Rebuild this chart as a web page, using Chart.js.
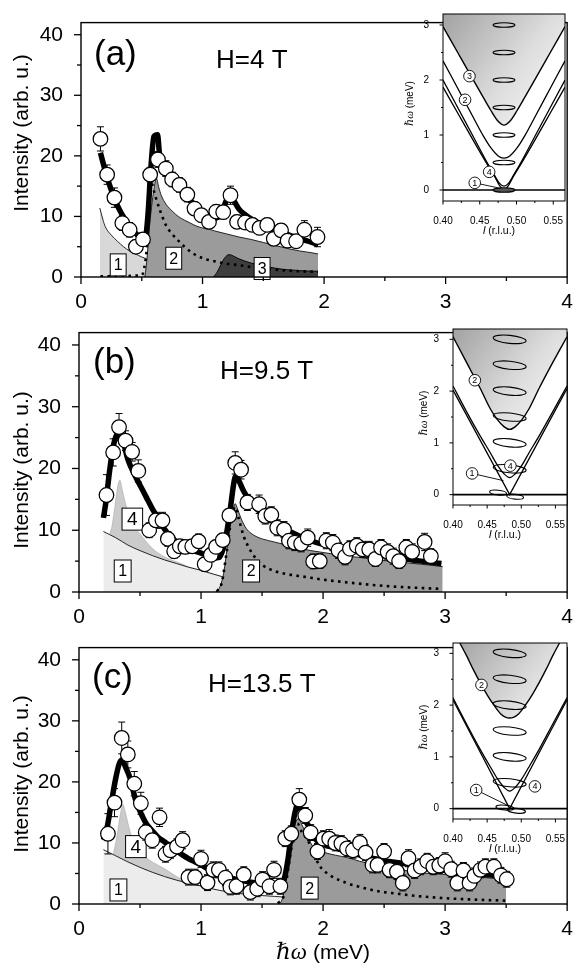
<!DOCTYPE html>
<html>
<head>
<meta charset="utf-8">
<title>Inelastic spectra at H = 4, 9.5 and 13.5 T</title>
<script src="https://cdn.jsdelivr.net/npm/chart.js"></script>
<style>
  html, body { margin: 0; padding: 0; background: #ffffff; }
  #page { position: relative; width: 578px; height: 974px; overflow: hidden; background: #ffffff; }
  #page canvas { position: absolute; }
</style>
</head>
<body>
<div id="page">
  <canvas id="mainA" width="578" height="310" style="left:0px;top:0px"></canvas>
  <canvas id="mainB" width="578" height="315" style="left:0px;top:310px"></canvas>
  <canvas id="mainC" width="578" height="349" style="left:0px;top:625px"></canvas>
  <canvas id="insetA" width="180" height="245" style="left:395px;top:0px"></canvas>
  <canvas id="insetB" width="170" height="235" style="left:405px;top:315px"></canvas>
  <canvas id="insetC" width="170" height="235" style="left:405px;top:629px"></canvas>
</div>
<script>
// ---------- axis ticks ----------
const MAIN_X_TICKS = [0, 1, 2, 3, 4];
const MAIN_X_MINOR = [0.5, 1.5, 2.5, 3.5];
const MAIN_Y_TICKS = [0, 10, 20, 30, 40];
const MAIN_Y_MINOR = [5, 15, 25, 35];
const INSET_X_TICKS = [0.40, 0.45, 0.50, 0.55];
const INSET_X_MINOR = [0.425, 0.475, 0.525];
const INSET_Y_TICKS = [0, 1, 2, 3];
const INSET_Y_MINOR = [0.5, 1.5, 2.5];

// ---------- (a) H = 4 T ----------
const A_PTS_X = [0.160,0.215,0.275,0.340,0.400,0.452,0.510,0.569,0.633,0.698,0.750,0.810,0.875,0.934,0.990,1.053,1.113,1.170,1.230,1.284,1.350,1.410,1.469,1.532,1.586,1.646,1.700,1.770,1.838,1.946];
const A_PTS_Y = [22.8,16.9,13.1,8.9,7.8,5.0,6.2,16.9,19.4,17.9,16.1,15.2,13.6,11.3,10.2,9.1,10.8,10.7,13.5,9.1,9.0,8.6,8.1,8.6,6.3,7.7,6.0,5.9,7.8,6.6];
const A_PTS_E = [2.0,1.6,1.6,1.2,1.2,1.1,1.1,1.2,1.3,1.3,1.2,1.2,1.2,1.1,1.1,1.1,1.1,1.1,1.5,1.1,1.1,1.1,1.1,1.1,1.1,1.1,1.1,1.1,1.5,1.6];
const A_FIT_X = [0.16,0.20,0.25,0.30,0.35,0.40,0.45,0.50,0.525,0.55,0.575,0.60,0.63,0.645,0.67,0.70,0.75,0.80,0.85,0.90,0.95,1.00,1.05,1.10,1.15,1.20,1.23,1.26,1.30,1.35,1.40,1.50,1.60,1.70,1.80,1.90,1.95];
const A_FIT_Y = [20.5,17.5,14.3,11.8,9.9,8.4,7.2,6.3,6.0,10.0,18.0,23.2,23.5,20.5,18.8,17.5,16.0,14.8,13.6,12.6,11.6,10.8,10.1,9.7,10.3,12.8,13.4,12.5,11.2,10.3,9.6,8.5,7.7,7.0,6.3,5.7,5.3];
const A_R1_X = [0.155,0.18,0.20,0.25,0.30,0.35,0.40,0.45,0.50,0.54];
const A_R1_Y = [11.4,9.5,8.3,6.9,5.9,5.0,4.3,3.8,3.3,3.0];
const A_R2_X = [0.525,0.535,0.545,0.56,0.58,0.60,0.62,0.64,0.66,0.70,0.75,0.80,0.85,0.90,0.95,1.00,1.05,1.10,1.20,1.30,1.40,1.50,1.60,1.70,1.80,1.90,1.95];
const A_R2_Y = [0,1.5,3.5,7.5,11.5,14.5,16.3,14.8,13.5,12.0,10.9,10.0,9.4,8.9,8.4,8.1,7.9,7.6,7.1,6.6,6.2,5.7,5.2,4.7,4.3,4.0,3.8];
const A_R3_X = [1.09,1.12,1.15,1.18,1.22,1.26,1.30,1.40,1.50,1.60,1.70,1.80,1.95];
const A_R3_Y = [0,0.8,2.0,3.1,3.7,3.4,3.0,2.3,1.85,1.45,1.2,1.05,0.95];
const A_DOT_X = [0.16,0.50,0.52,0.54,0.555,0.565,0.575,0.59,0.62,0.65,0.70,0.75,0.80,0.90,1.00,1.10,1.20,1.30,1.40,1.50,1.60,1.70,1.80,1.95];
const A_DOT_Y = [0.1,0.3,1.5,4.5,10,15,16.5,15,12.8,11,8.5,7.1,6.0,4.2,3.1,2.6,2.2,1.95,1.65,1.4,1.2,1.05,0.95,0.85];

// ---------- (b) H = 9.5 T ----------
const B_PTS_X = [0.225,0.280,0.328,0.381,0.435,0.486,0.575,0.630,0.684,0.728,0.780,0.826,0.871,0.928,0.980,1.030,1.080,1.123,1.178,1.232,1.280,1.328,1.380,1.476,1.526,1.576,1.624,1.680,1.720,1.768,1.820,1.874,1.919,1.973,2.027,2.080,2.126,2.180,2.220,2.276,2.324,2.378,2.429,2.475,2.529,2.575,2.623,2.682,2.730,2.832,2.883];
const B_PTS_Y = [15.7,22.6,26.7,24.5,22.7,19.6,10.0,11.6,11.6,8.6,6.6,7.4,7.3,7.4,8.2,4.5,6.0,7.3,8.4,12.4,20.9,19.8,14.5,14.2,12.3,12.5,10.4,10.1,8.3,8.0,7.8,8.8,4.95,5.0,8.3,8.0,6.75,5.7,7.0,7.5,6.9,6.9,5.35,7.2,6.5,5.8,5.0,7.2,6.5,8.1,5.8];
const B_PTS_E = [3.3,2.2,2.2,1.6,1.5,1.8,1.2,1.3,1.3,1.2,1.1,1.1,1.1,1.1,1.2,1.1,1.1,1.1,1.1,1.1,1.8,1.5,1.3,1.5,1.3,1.3,1.3,1.3,1.3,1.3,1.3,1.4,1.2,1.2,1.3,1.3,1.3,1.3,1.3,1.3,1.3,1.3,1.2,1.3,1.3,1.3,1.2,1.3,1.3,1.4,1.2];
const B_FIT_X = [0.20,0.22,0.25,0.28,0.31,0.33,0.36,0.40,0.45,0.50,0.55,0.60,0.65,0.70,0.75,0.80,0.85,0.90,0.95,1.00,1.05,1.10,1.15,1.20,1.24,1.27,1.285,1.31,1.35,1.40,1.45,1.50,1.60,1.70,1.80,1.90,2.00,2.20,2.40,2.60,2.80,2.97];
const B_FIT_Y = [12.0,14.5,19.5,23.5,25.5,25.8,24.5,21.5,19.2,17.3,15.4,13.5,11.9,10.2,9.0,8.1,7.5,7.0,6.6,6.3,5.9,5.5,5.6,8.5,13.5,17.8,18.8,18.0,16.3,14.7,13.6,12.7,11.3,10.1,9.1,8.3,7.7,6.9,6.2,5.6,5.0,4.6];
const B_R1_X = [0.20,0.25,0.30,0.35,0.40,0.50,0.60,0.70,0.80,0.90,1.00,1.10,1.17];
const B_R1_Y = [9.8,9.3,8.8,8.2,7.6,6.7,5.9,5.2,4.6,4.0,3.5,2.9,2.5];
const B_R4_X = [0.25,0.27,0.295,0.32,0.335,0.355,0.376,0.416,0.45,0.50,0.60,0.70,0.85,0.90,1.00,1.10,1.17];
const B_R4_Y = [9.35,10.6,14.0,17.4,18.1,16.5,14.7,11.9,10.6,9.4,7.1,5.7,4.5,4.05,3.5,2.9,2.5];
const B_R2_X = [1.12,1.15,1.18,1.20,1.23,1.26,1.28,1.30,1.33,1.37,1.41,1.45,1.50,1.60,1.70,1.80,1.90,2.00,2.10,2.20,2.30,2.40,2.50,2.60,2.70,2.80,2.90,2.98];
const B_R2_Y = [0,0.6,2.5,5.0,9.5,13.0,14.3,13.4,11.8,10.3,9.5,9.0,8.6,8.1,7.6,7.1,6.7,6.4,6.1,5.8,5.6,5.3,5.1,4.9,4.7,4.5,4.3,4.1];
const B_DOT_X = [1.13,1.17,1.21,1.25,1.28,1.31,1.35,1.40,1.45,1.50,1.60,1.70,1.80,1.90,2.00,2.20,2.40,2.60,2.80,2.98];
const B_DOT_Y = [0.1,1.5,6.5,12.0,13.8,11.8,9.0,6.9,5.4,4.4,3.4,2.9,2.6,2.3,2.0,1.55,1.15,0.85,0.65,0.5];

// ---------- (c) H = 13.5 T ----------
const C_PTS_X = [0.237,0.291,0.350,0.400,0.453,0.507,0.547,0.600,0.660,0.709,0.750,0.803,0.849,0.897,0.951,1.000,1.053,1.100,1.146,1.200,1.240,1.290,1.350,1.404,1.460,1.504,1.560,1.598,1.650,1.690,1.740,1.805,1.854,1.898,1.954,2.003,2.050,2.100,2.150,2.196,2.245,2.302,2.348,2.405,2.446,2.500,2.545,2.605,2.653,2.700,2.750,2.800,2.853,2.903,2.952,3.000,3.050,3.100,3.150,3.200,3.240,3.290,3.330,3.400,3.457,3.505];
const C_PTS_Y = [11.5,16.6,27.2,24.5,19.7,16.5,11.75,10.45,14.2,8.15,8.8,9.4,10.45,4.4,4.4,7.4,3.5,5.6,5.6,4.3,2.8,2.9,4.8,1.95,2.5,4.0,2.9,5.6,2.9,10.7,11.5,17.1,14.5,11.7,8.6,10.7,10.7,10.0,9.9,9.1,8.8,10.0,8.4,6.4,6.4,8.6,5.6,5.3,3.45,7.5,5.5,6.1,7.0,6.1,6.3,7.0,5.7,3.45,5.5,3.45,4.6,5.6,6.1,6.1,4.7,4.05];
const C_PTS_E = [3.3,2.3,2.6,2.2,2.0,1.8,1.3,1.3,1.5,1.3,1.3,1.3,1.4,1.3,1.3,1.4,1.3,1.3,1.3,1.3,1.3,1.3,1.3,1.3,1.3,1.3,1.3,1.4,1.3,1.3,1.3,1.8,1.3,1.3,1.3,1.3,1.5,1.3,1.3,1.3,1.3,1.4,1.3,1.3,1.3,1.3,1.3,1.3,1.3,1.4,1.3,1.3,1.3,1.3,1.3,1.4,1.3,1.3,1.3,1.3,1.3,1.3,1.3,1.3,1.3,1.3];
const C_FIT_X = [0.20,0.23,0.26,0.30,0.33,0.355,0.38,0.42,0.46,0.50,0.55,0.60,0.65,0.70,0.75,0.80,0.85,0.90,0.95,1.00,1.10,1.20,1.30,1.40,1.50,1.60,1.65,1.68,1.71,1.74,1.77,1.79,1.81,1.85,1.89,1.93,2.00,2.10,2.20,2.30,2.40,2.50,2.60,2.70,2.80,2.90,3.00,3.10,3.20,3.30,3.40,3.50];
const C_FIT_Y = [10.5,12.5,16.0,20.5,23.0,23.6,22.5,20.5,17.3,15.2,13.2,12.0,10.9,10.2,9.4,8.7,8.0,7.4,6.9,6.4,5.3,4.5,4.0,3.6,3.25,3.1,3.15,4.0,7.0,11.5,15.0,16.2,15.8,13.8,12.5,10.8,9.8,9.2,8.6,8.0,7.5,7.1,6.8,6.5,6.1,5.8,5.5,5.2,5.0,4.85,4.7,4.3];
const C_R1_X = [0.20,0.30,0.40,0.50,0.60,0.70,0.80,0.90,1.00,1.10,1.20,1.30,1.40,1.50,1.60,1.67];
const C_R1_Y = [8.9,7.9,6.9,6.0,5.2,4.5,3.9,3.4,2.95,2.45,2.05,1.75,1.55,1.38,1.25,1.15];
const C_R4_X = [0.28,0.31,0.34,0.36,0.38,0.41,0.45,0.50,0.55,0.60,0.70,0.80,0.90,1.00];
const C_R4_Y = [8.0,11.0,14.8,16.3,15.0,12.5,10.0,8.5,7.6,6.9,5.8,4.5,3.5,2.95];
const C_R2_X = [1.63,1.66,1.69,1.72,1.75,1.78,1.80,1.83,1.87,1.91,1.95,2.00,2.10,2.20,2.30,2.40,2.50,2.60,2.70,2.80,2.90,3.00,3.10,3.20,3.30,3.40,3.45,3.50];
const C_R2_Y = [0,0.5,3.0,7.5,11.5,13.6,14.0,12.8,11.3,9.6,8.9,8.5,8.0,7.6,7.0,6.5,6.1,5.7,5.4,5.1,4.95,4.85,4.65,4.5,4.35,4.2,4.0,3.7];
const C_DOT_X = [1.63,1.68,1.72,1.76,1.79,1.82,1.87,1.92,1.97,2.05,2.20,2.30,2.45,2.60,2.80,3.00,3.20,3.50];
const C_DOT_Y = [0.1,1.5,6.5,11.5,13.2,12.0,10.6,8.5,6.3,4.8,3.4,2.8,2.1,1.7,1.25,0.95,0.75,0.55];

// ---------- dispersion insets: l (r.l.u.) vs energy (meV) ----------
const IA_L = [0.40,0.42,0.44,0.455,0.465,0.475,0.483,0.491,0.501,0.511,0.526,0.546,0.566];
const IA_E3 = [2.97,2.5,2.03,1.68,1.45,1.25,1.18,1.25,1.45,1.68,2.03,2.5,2.97];
const IA_E2 = [2.35,1.85,1.35,0.98,0.77,0.62,0.58,0.62,0.77,0.98,1.35,1.85,2.35];
const IA_LV = [0.40,0.42,0.44,0.46,0.47,0.477,0.483,0.489,0.496,0.506,0.526,0.546,0.566];
const IA_E4 = [2.0,1.5,1.0,0.5,0.27,0.12,0.07,0.12,0.27,0.5,1.0,1.5,2.0];
const IA_E1 = [1.87,1.4,0.93,0.47,0.25,0.08,0.0,0.08,0.25,0.47,0.93,1.4,1.87];
const IA_ELL_L = [0.483,0.483,0.483,0.483,0.483,0.483,0.483];
const IA_ELL_E = [3.0,2.5,2.0,1.5,1.0,0.5,0.0];

const IB_L = [0.40,0.42,0.44,0.455,0.465,0.475,0.483,0.491,0.501,0.511,0.526,0.546,0.567];
const IB_E2 = [3.05,2.55,2.05,1.65,1.45,1.31,1.26,1.31,1.45,1.65,2.05,2.55,3.05];
const IB_E4 = [2.1,1.6,1.13,0.8,0.57,0.4,0.33,0.4,0.57,0.8,1.13,1.6,2.1];
const IB_LV = [0.40,0.483,0.567];
const IB_E1 = [2.02,0.0,2.05];
const IB_ELL_L = [0.483,0.483,0.483,0.483,0.483,0.483,0.466,0.491];
const IB_ELL_E = [3.0,2.5,2.0,1.5,1.0,0.5,0.04,-0.04];

const IC_LO = [0.41,0.42,0.43,0.44,0.45,0.46,0.47,0.483,0.496,0.506,0.516,0.526,0.536,0.546,0.556];
const IC_E2 = [3.2,2.95,2.68,2.43,2.2,2.0,1.83,1.75,1.83,2.0,2.2,2.43,2.68,2.95,3.2];
const IC_L = [0.40,0.42,0.44,0.455,0.465,0.475,0.483,0.491,0.501,0.511,0.526,0.546,0.567];
const IC_E4 = [2.14,1.63,1.14,0.8,0.58,0.41,0.34,0.41,0.58,0.8,1.14,1.63,2.14];
const IC_LV = [0.40,0.483,0.567];
const IC_E1 = [2.1,0.0,2.1];
const IC_ELL_L = [0.483,0.483,0.483,0.483,0.483,0.483,0.476,0.493];
const IC_ELL_E = [3.0,2.5,2.0,1.5,1.0,0.5,0.02,-0.04];

const ZERO_L = [0.40, 0.567];
const ZERO_E = [0, 0];

// ---------- helpers ----------
Chart.defaults.font.family = "'Liberation Sans', Arial, Helvetica, sans-serif";
Chart.defaults.color = '#000';
const SANS = "'Liberation Sans', Arial, sans-serif";
const SERIF = "'Liberation Serif', 'DejaVu Serif', serif";

function xy(xs, ys) { return xs.map((x, i) => ({ x: x, y: ys[i] })); }

const STYLE = {
  r1a: { fill: 'origin', backgroundColor: '#d8d8d8', borderColor: '#111', borderWidth: 0.9 },
  r1:  { fill: 'origin', backgroundColor: '#ececec', borderColor: '#111', borderWidth: 0.9 },
  r4:  { fill: 'origin', backgroundColor: '#cbcbcb', borderColor: '#a8a8a8', borderWidth: 0.6 },
  r2:  { fill: 'origin', backgroundColor: '#9b9b9b', borderColor: '#111', borderWidth: 0.9 },
  r3:  { fill: 'origin', backgroundColor: '#3e3e3e', borderColor: '#000', borderWidth: 0.9 },
  dot: { fill: false, borderColor: '#000', borderWidth: 2.6, borderDash: [2.6, 4.4] },
  fit: { fill: false, borderColor: '#000', borderWidth: 5.5, borderJoinStyle: 'round' }
};

function tickLine(ctx, x0, y0, x1, y1) { ctx.beginPath(); ctx.moveTo(x0, y0); ctx.lineTo(x1, y1); ctx.stroke(); }

function drawTicks(chart, xt, xm, yt, ym, major, minor, lw) {
  const ctx = chart.ctx, a = chart.chartArea, sx = chart.scales.x, sy = chart.scales.y;
  ctx.save(); ctx.strokeStyle = '#000'; ctx.lineWidth = lw;
  xt.forEach(v => { const p = sx.getPixelForValue(v); tickLine(ctx, p, a.bottom, p, a.bottom + major); });
  xm.forEach(v => { const p = sx.getPixelForValue(v); tickLine(ctx, p, a.bottom, p, a.bottom + minor); });
  yt.forEach(v => { const p = sy.getPixelForValue(v); tickLine(ctx, a.left, p, a.left - major, p); });
  ym.forEach(v => { const p = sy.getPixelForValue(v); tickLine(ctx, a.left, p, a.left - minor, p); });
  ctx.restore();
}

// mixed-font label: parts = [{t, font}], drawn centred on (cx, cy)
function mixedText(ctx, parts, cx, cy, rot) {
  ctx.save();
  ctx.translate(cx, cy);
  if (rot) ctx.rotate(rot);
  ctx.textBaseline = 'alphabetic';
  ctx.fillStyle = '#000';
  let w = 0;
  parts.forEach(p => { ctx.font = p.font; p.w = ctx.measureText(p.t).width; w += p.w; });
  let x = -w / 2;
  parts.forEach(p => { ctx.font = p.font; ctx.textAlign = 'left'; ctx.fillText(p.t, x, p.dy || 0); x += p.w; });
  ctx.restore();
}

// ---------- main spectra ----------
function mainDeco(g, boxes, notes) {
  return {
    id: 'mainDeco',
    beforeDatasetDraw(chart, args) {
      const ds = chart.data.datasets[args.index];
      const ctx = chart.ctx, sx = chart.scales.x, sy = chart.scales.y;
      if (ds.role === 'fit') {
        ctx.save();
        boxes.forEach(b => {
          ctx.font = b.fs + 'px ' + SANS;
          const w = ctx.measureText(b.t).width + b.pad * 2, h = 22;
          const cx = sx.getPixelForValue(b.x), cy = sy.getPixelForValue(b.y);
          ctx.fillStyle = '#fff'; ctx.fillRect(cx - w / 2, cy - h / 2, w, h);
          ctx.strokeStyle = '#000'; ctx.lineWidth = 1; ctx.strokeRect(cx - w / 2, cy - h / 2, w, h);
          ctx.fillStyle = '#000'; ctx.textAlign = 'center'; ctx.textBaseline = 'middle';
          ctx.fillText(b.t, cx, cy + 1);
        });
        ctx.restore();
      } else if (ds.role === 'points') {
        ctx.save(); ctx.strokeStyle = '#000'; ctx.lineWidth = 1;
        ds.data.forEach((p, i) => {
          const e = ds.err[i];
          const px = sx.getPixelForValue(p.x);
          const yt = sy.getPixelForValue(p.y + e), yb = sy.getPixelForValue(p.y - e);
          tickLine(ctx, px, yb, px, yt);
          tickLine(ctx, px - 3.5, yt, px + 3.5, yt);
          tickLine(ctx, px - 3.5, yb, px + 3.5, yb);
        });
        ctx.restore();
      }
    },
    afterDatasetsDraw(chart) {
      const ctx = chart.ctx, a = chart.chartArea;
      ctx.save(); ctx.strokeStyle = '#000'; ctx.lineWidth = 1.4;
      ctx.strokeRect(a.left, a.top, a.right - a.left, a.bottom - a.top);
      ctx.restore();
      drawTicks(chart, MAIN_X_TICKS, MAIN_X_MINOR, MAIN_Y_TICKS, MAIN_Y_MINOR, 7, 4, 1.3);
    },
    afterDraw(chart) {
      const ctx = chart.ctx, a = chart.chartArea;
      ctx.save(); ctx.fillStyle = '#000'; ctx.textAlign = 'left'; ctx.textBaseline = 'alphabetic';
      notes.forEach(n => { ctx.font = n.fs + 'px ' + SANS; ctx.fillText(n.t, a.left + n.dx, a.top + n.by); });
      ctx.restore();
      mixedText(ctx, [{ t: 'Intensity (arb. u.)', font: '21px ' + SANS }], 28, g.ytitle, -Math.PI / 2);
      if (g.xtitle) {
        mixedText(ctx, [
          { t: '\u210F\u03C9', font: 'italic 23px ' + SERIF },
          { t: ' (meV)', font: '21px ' + SANS }
        ], (a.left + a.right) / 2, a.bottom + g.xtitle, 0);
      }
    }
  };
}

function buildMain(id, g, layers, pts, boxes, notes) {
  const datasets = layers.map((L, i) => Object.assign({
    type: 'line', data: xy(L.x, L.y), pointRadius: 0,
    cubicInterpolationMode: 'monotone', order: 100 - i, role: L.kind
  }, STYLE[L.kind]));
  datasets.push({
    type: 'line', role: 'points', data: xy(pts.x, pts.y), err: pts.e, showLine: false,
    pointRadius: 7.3, pointBackgroundColor: '#fff', pointBorderColor: '#000', pointBorderWidth: 1.25, order: 0
  });
  return new Chart(document.getElementById(id), {
    type: 'line',
    data: { datasets },
    options: {
      responsive: false, animation: false, events: [],
      layout: { padding: { left: 0, top: g.top, right: g.W - g.right, bottom: 0 } },
      plugins: { legend: { display: false }, tooltip: { enabled: false } },
      scales: {
        x: {
          type: 'linear', min: 0, max: 4,
          grid: { display: false }, border: { display: false },
          afterBuildTicks: s => { s.ticks = MAIN_X_TICKS.map(v => ({ value: v })); },
          afterFit: s => { s.height = g.H - g.bottom; },
          ticks: { padding: 5, font: { size: 21 }, color: '#000', autoSkip: false, maxRotation: 0, callback: v => String(v) }
        },
        y: {
          type: 'linear', min: 0, max: 42,
          grid: { display: false }, border: { display: false },
          afterBuildTicks: s => { s.ticks = MAIN_Y_TICKS.map(v => ({ value: v })); },
          afterFit: s => { s.width = g.left; },
          ticks: { padding: 10, font: { size: 21 }, color: '#000', autoSkip: false, callback: v => String(v) }
        }
      }
    },
    plugins: [mainDeco(g, boxes, notes)]
  });
}

// ---------- dispersion insets ----------
function insetDeco(g, ell, marks) {
  return {
    id: 'insetDeco',
    beforeDatasetsDraw(chart) {
      const ctx = chart.ctx, a = chart.chartArea;
      ctx.save(); ctx.fillStyle = '#fff'; ctx.fillRect(a.left, a.top, a.right - a.left, a.bottom - a.top); ctx.restore();
    },
    afterDatasetsDraw(chart) {
      const ctx = chart.ctx, a = chart.chartArea, sx = chart.scales.x, sy = chart.scales.y;
      ctx.save();
      ctx.beginPath(); ctx.rect(a.left, a.top, a.right - a.left, a.bottom - a.top); ctx.clip();
      ell.l.forEach((l, i) => {
        const cx = sx.getPixelForValue(l), cy = sy.getPixelForValue(ell.e[i]);
        const small = Math.abs(ell.e[i]) < 0.1;
        ctx.beginPath();
        ctx.ellipse(cx, cy, small ? ell.rx0 : ell.rx, small ? ell.ry0 : ell.ry, ell.rot, 0, Math.PI * 2);
        if (small && ell.fill0) { ctx.fillStyle = ell.fill0; ctx.fill(); }
        ctx.strokeStyle = '#000'; ctx.lineWidth = 1.1; ctx.stroke();
      });
      ctx.restore();
      ctx.save();
      marks.forEach(m => {
        const cx = sx.getPixelForValue(m.l), cy = sy.getPixelForValue(m.e);
        if (m.tl !== undefined) {
          ctx.strokeStyle = '#000'; ctx.lineWidth = 0.9;
          tickLine(ctx, cx, cy, sx.getPixelForValue(m.tl), sy.getPixelForValue(m.te));
        }
        ctx.beginPath(); ctx.arc(cx, cy, 5.8, 0, Math.PI * 2);
        ctx.fillStyle = '#fff'; ctx.fill(); ctx.strokeStyle = '#000'; ctx.lineWidth = 0.9; ctx.stroke();
        ctx.fillStyle = '#000'; ctx.font = '9px ' + SANS; ctx.textAlign = 'center'; ctx.textBaseline = 'middle';
        ctx.fillText(m.t, cx, cy + 0.5);
      });
      ctx.strokeStyle = '#000'; ctx.lineWidth = 1;
      ctx.strokeRect(a.left, a.top, a.right - a.left, a.bottom - a.top);
      ctx.restore();
      drawTicks(chart, INSET_X_TICKS, INSET_X_MINOR, INSET_Y_TICKS, INSET_Y_MINOR, 3.5, 2, 1);
    },
    afterDraw(chart) {
      const ctx = chart.ctx, a = chart.chartArea;
      mixedText(ctx, [
        { t: '\u210F\u03C9', font: 'italic 11px ' + SERIF },
        { t: ' (meV)', font: '10px ' + SANS }
      ], a.left - g.ytitle, (a.top + a.bottom) / 2 - 4, -Math.PI / 2);
      mixedText(ctx, [
        { t: 'l', font: 'italic 11px ' + SANS },
        { t: ' (r.l.u.)', font: '10.5px ' + SANS }
      ], (a.left + a.right) / 2 - 5, a.bottom + 33, 0);
    }
  };
}

function shade(ctx) {
  const chart = ctx.chart, a = chart.chartArea;
  if (!a) return '#cccccc';
  const gr = chart.ctx.createLinearGradient(a.left, a.top, a.right, a.top + (a.bottom - a.top) * 0.5);
  gr.addColorStop(0, '#a2a2a2');
  gr.addColorStop(0.6, '#dedede');
  gr.addColorStop(1, '#f7f7f7');
  return gr;
}

function buildInset(id, g, outer, lines, ell, marks) {
  const datasets = [];
  datasets.push({ type: 'line', data: xy(outer.x, outer.y), fill: 'end', backgroundColor: shade,
    borderColor: '#000', borderWidth: 1.4, pointRadius: 0, cubicInterpolationMode: 'monotone', order: 10 });
  lines.forEach((L, i) => datasets.push({ type: 'line', data: xy(L.x, L.y), fill: false,
    borderColor: '#000', borderWidth: L.w || 1.3, pointRadius: 0,
    cubicInterpolationMode: L.straight ? 'default' : 'monotone', tension: 0, order: 5 - i }));
  datasets.push({ type: 'line', data: xy(ZERO_L, ZERO_E), fill: false, borderColor: '#000', borderWidth: 1.6, pointRadius: 0, order: 0 });
  return new Chart(document.getElementById(id), {
    type: 'line',
    data: { datasets },
    options: {
      responsive: false, animation: false, events: [],
      layout: { padding: { left: 0, top: g.top, right: g.W - g.right, bottom: 0 } },
      plugins: { legend: { display: false }, tooltip: { enabled: false } },
      scales: {
        x: {
          type: 'linear', min: 0.40, max: g.xmax,
          grid: { display: false }, border: { display: false },
          afterBuildTicks: s => { s.ticks = INSET_X_TICKS.map(v => ({ value: v })); },
          afterFit: s => { s.height = g.H - g.bottom; },
          ticks: { padding: 6, font: { size: 10 }, color: '#000', autoSkip: false, maxRotation: 0, callback: v => v.toFixed(2) }
        },
        y: {
          type: 'linear', min: -0.2, max: 3.2,
          grid: { display: false }, border: { display: false },
          afterBuildTicks: s => { s.ticks = INSET_Y_TICKS.map(v => ({ value: v })); },
          afterFit: s => { s.width = g.left; },
          ticks: { padding: 6, font: { size: 10 }, color: '#000', autoSkip: false, callback: v => String(v) }
        }
      }
    },
    plugins: [insetDeco(g, ell, marks)]
  });
}

// ---------- panel (a) ----------
buildMain('mainA', { W: 578, H: 310, left: 81, right: 577, top: 5, bottom: 277, ytitle: 133 }, [
  { kind: 'r1a', x: A_R1_X, y: A_R1_Y },
  { kind: 'r2', x: A_R2_X, y: A_R2_Y },
  { kind: 'r3', x: A_R3_X, y: A_R3_Y },
  { kind: 'dot', x: A_DOT_X, y: A_DOT_Y },
  { kind: 'fit', x: A_FIT_X, y: A_FIT_Y }
], { x: A_PTS_X, y: A_PTS_Y, e: A_PTS_E }, [
  { t: '1', x: 0.306, y: 2.0, fs: 16, pad: 3.5 },
  { t: '2', x: 0.763, y: 3.1, fs: 16, pad: 3.5 },
  { t: '3', x: 1.49, y: 1.4, fs: 16, pad: 3.5 }
], [
  { t: '(a)', dx: 13, by: 42, fs: 35 },
  { t: 'H=4 T', dx: 135, by: 45, fs: 26 }
]);

// ---------- panel (b) ----------
buildMain('mainB', { W: 578, H: 315, left: 79, right: 574, top: 11, bottom: 282, ytitle: 160 }, [
  { kind: 'r4', x: B_R4_X, y: B_R4_Y },
  { kind: 'r1', x: B_R1_X, y: B_R1_Y },
  { kind: 'r2', x: B_R2_X, y: B_R2_Y },
  { kind: 'dot', x: B_DOT_X, y: B_DOT_Y },
  { kind: 'fit', x: B_FIT_X, y: B_FIT_Y }
], { x: B_PTS_X, y: B_PTS_Y, e: B_PTS_E }, [
  { t: '4', x: 0.437, y: 11.8, fs: 19, pad: 5 },
  { t: '1', x: 0.358, y: 3.4, fs: 16, pad: 4 },
  { t: '2', x: 1.41, y: 3.4, fs: 16, pad: 4 }
], [
  { t: '(b)', dx: 14, by: 40, fs: 35 },
  { t: 'H=9.5 T', dx: 141, by: 46, fs: 26 }
]);

// ---------- panel (c) ----------
buildMain('mainC', { W: 578, H: 349, left: 79, right: 574, top: 8, bottom: 279, ytitle: 149, xtitle: 55 }, [
  { kind: 'r4', x: C_R4_X, y: C_R4_Y },
  { kind: 'r1', x: C_R1_X, y: C_R1_Y },
  { kind: 'r2', x: C_R2_X, y: C_R2_Y },
  { kind: 'dot', x: C_DOT_X, y: C_DOT_Y },
  { kind: 'fit', x: C_FIT_X, y: C_FIT_Y }
], { x: C_PTS_X, y: C_PTS_Y, e: C_PTS_E }, [
  { t: '4', x: 0.466, y: 9.4, fs: 19, pad: 5 },
  { t: '1', x: 0.323, y: 2.3, fs: 16, pad: 4 },
  { t: '2', x: 1.89, y: 2.6, fs: 16, pad: 4 }
], [
  { t: '(c)', dx: 13, by: 40, fs: 35 },
  { t: 'H=13.5 T', dx: 129, by: 44, fs: 26 }
]);

// ---------- insets ----------
buildInset('insetA', { W: 180, H: 245, left: 48, right: 170, top: 14, bottom: 201, xmax: 0.566, ytitle: 30 },
  { x: IA_L, y: IA_E3 },
  [ { x: IA_L, y: IA_E2 }, { x: IA_LV, y: IA_E4 }, { x: IA_LV, y: IA_E1 } ],
  { l: IA_ELL_L, e: IA_ELL_E, rx: 11, ry: 2.3, rot: 0, rx0: 11, ry0: 2.3, fill0: '#555' },
  [ { t: '3', l: 0.436, e: 2.07 }, { t: '2', l: 0.430, e: 1.64 }, { t: '4', l: 0.4628, e: 0.33 },
    { t: '1', l: 0.4432, e: 0.13, tl: 0.478, te: 0.03 } ]);

buildInset('insetB', { W: 170, H: 235, left: 48, right: 162, top: 14, bottom: 190, xmax: 0.567, ytitle: 26 },
  { x: IB_L, y: IB_E2 },
  [ { x: IB_L, y: IB_E4 }, { x: IB_LV, y: IB_E1, straight: true } ],
  { l: IB_ELL_L, e: IB_ELL_E, rx: 16.5, ry: 4, rot: 0.1, rx0: 8.5, ry0: 2.4 },
  [ { t: '2', l: 0.432, e: 2.21 }, { t: '4', l: 0.484, e: 0.56 },
    { t: '1', l: 0.428, e: 0.41, tl: 0.474, te: 0.27 } ]);

buildInset('insetC', { W: 170, H: 235, left: 48, right: 162, top: 14, bottom: 190, xmax: 0.567, ytitle: 26 },
  { x: IC_LO, y: IC_E2 },
  [ { x: IC_L, y: IC_E4 }, { x: IC_LV, y: IC_E1, straight: true } ],
  { l: IC_ELL_L, e: IC_ELL_E, rx: 16.5, ry: 4, rot: 0.1, rx0: 9, ry0: 2.4 },
  [ { t: '2', l: 0.4417, e: 2.39 }, { t: '1', l: 0.434, e: 0.36, tl: 0.479, te: 0.07 },
    { t: '4', l: 0.52, e: 0.43 } ]);
</script>
</body>
</html>
